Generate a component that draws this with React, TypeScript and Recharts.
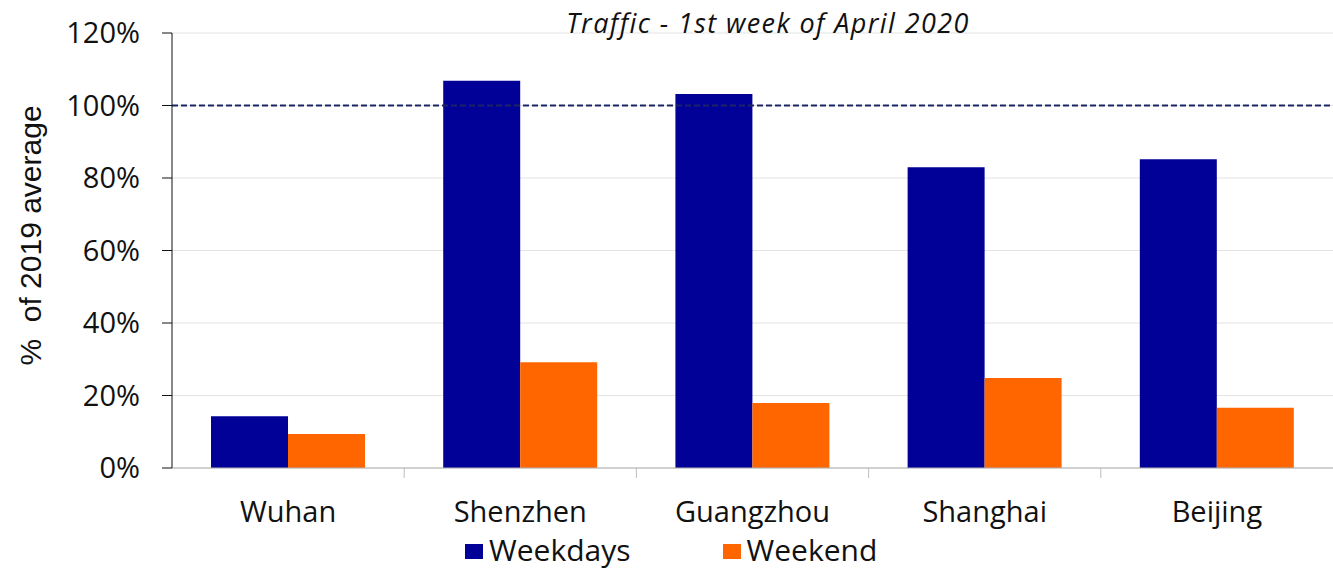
import { Bar, BarChart, CartesianGrid, Legend, ReferenceLine, XAxis, YAxis } from "recharts";

const cities = ["Wuhan", "Shenzhen", "Guangzhou", "Shanghai", "Beijing"];
const weekdays = [14.3, 106.8, 103.2, 83.0, 85.2];
const weekend = [9.4, 29.2, 17.9, 24.8, 16.6];
const yTicks = [0, 20, 40, 60, 80, 100, 120];

const WEEKDAY_COLOR = "#010198";
const WEEKEND_COLOR = "#ff6600";
const FONT = "'Open Sans', 'Noto Sans', sans-serif";

const data = cities.map((city, i) => ({
  city,
  weekdays: weekdays[i],
  weekend: weekend[i],
}));

function CityTick(props: any) {
  const { x, y, payload, index } = props;
  const half = payload.offset ?? 0;
  return (
    <g>
      {index < cities.length - 1 ? (
        <line x1={x + half} x2={x + half} y1={y - 8} y2={y + 2} stroke="#bdbdbd" />
      ) : null}
      <text x={x} y={y + 46} textAnchor="middle" fill="#111" fontSize={29} fontFamily={FONT}>
        {payload.value}
      </text>
    </g>
  );
}

function LegendContent(props: any) {
  const items = props.payload ?? [];
  return (
    <div style={{ display: "flex", fontFamily: FONT, fontSize: 30, color: "#111", whiteSpace: "nowrap" }}>
      {items.map((item: any, i: number) => (
        <div
          key={item.value}
          style={{ display: "flex", alignItems: "center", marginRight: i === 0 ? 92 : 0 }}
        >
          <span
            style={{
              display: "inline-block",
              width: 18,
              height: 15,
              background: item.color,
              marginRight: 6,
              marginTop: 4,
            }}
          />
          {item.value}
        </div>
      ))}
    </div>
  );
}

export default function App() {
  return (
    <div style={{ position: "absolute", left: 0, top: 0, width: 1333, height: 571, background: "#fff" }}>
      <div
        style={{
          position: "absolute",
          top: 4,
          left: 0,
          width: 1536,
          textAlign: "center",
          fontFamily: FONT,
          fontStyle: "italic",
          fontSize: 27,
          letterSpacing: 1.4,
          color: "#111",
          zIndex: 2,
        }}
      >
        Traffic - 1st week of April 2020
      </div>
      <BarChart
        width={1333}
        height={571}
        data={data}
        margin={{ top: 33, right: 0, left: 0, bottom: 0 }}
        barCategoryGap="16.8%"
        barGap={0}
      >
        <CartesianGrid vertical={false} stroke="#e3e3e3" />
        <XAxis
          dataKey="city"
          height={103}
          stroke="#b0b0b0"
          tickLine={false}
          tick={<CityTick />}
          interval={0}
        />
        <YAxis
          width={172}
          domain={[0, 120]}
          ticks={yTicks}
          interval={0}
          tickFormatter={(v) => `${v}%`}
          stroke="#111"
          tickSize={10}
          tickMargin={22}
          tick={{ fill: "#111", fontSize: 29, fontFamily: FONT }}
          label={{
            value: "%\u00a0 of 2019 average",
            angle: -90,
            position: "insideLeft",
            offset: 30,
            dy: -15,
            style: {
              textAnchor: "middle",
              fill: "#111",
              fontSize: 30,
              fontFamily: "'Liberation Sans', Arial, sans-serif",
            },
          }}
        />
        <ReferenceLine y={100} stroke="#1c2466" strokeWidth={2} strokeDasharray="6 3" />
        <Legend
          layout="horizontal"
          verticalAlign="middle"
          content={<LegendContent />}
          wrapperStyle={{ top: 529, left: 465, width: "auto" }}
        />
        <Bar dataKey="weekdays" name="Weekdays" fill={WEEKDAY_COLOR} isAnimationActive={false} />
        <Bar dataKey="weekend" name="Weekend" fill={WEEKEND_COLOR} isAnimationActive={false} />
      </BarChart>
    </div>
  );
}
